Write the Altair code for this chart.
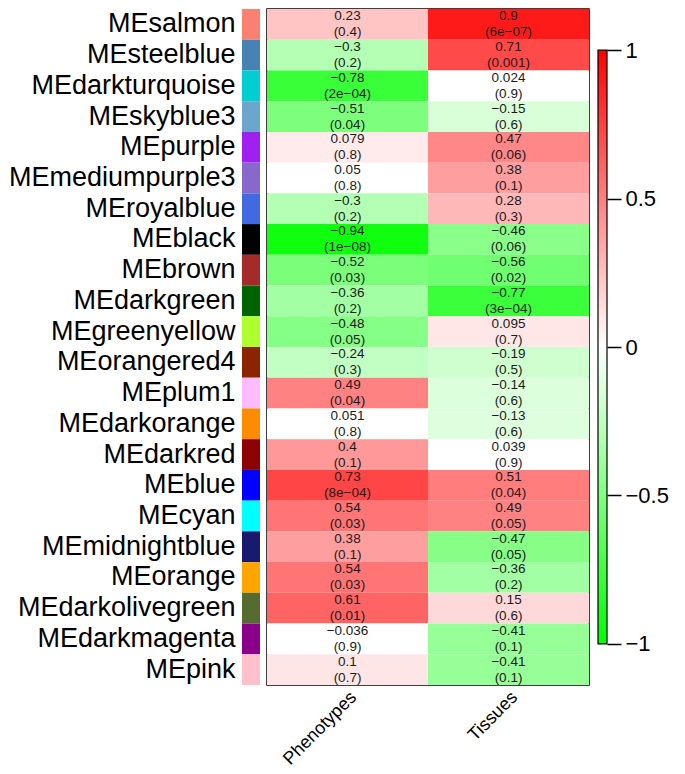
import altair as alt
import pandas as pd

modules = ["MEsalmon", "MEsteelblue", "MEdarkturquoise", "MEskyblue3", "MEpurple",
           "MEmediumpurple3", "MEroyalblue", "MEblack", "MEbrown", "MEdarkgreen",
           "MEgreenyellow", "MEorangered4", "MEplum1", "MEdarkorange", "MEdarkred",
           "MEblue", "MEcyan", "MEmidnightblue", "MEorange", "MEdarkolivegreen",
           "MEdarkmagenta", "MEpink"]
swatch_colors = ["#FA8072", "#4682B4", "#00CED1", "#6CA6CD", "#A020F0",
                 "#8968CD", "#4169E1", "#000000", "#A52A2A", "#006400",
                 "#ADFF2F", "#8B2500", "#FFBBFF", "#FF8C00", "#8B0000",
                 "#0000FF", "#00FFFF", "#191970", "#FFA500", "#556B2F",
                 "#8B008B", "#FFC0CB"]
traits = ["Phenotypes", "Tissues"]
pheno_r = [0.23, -0.3, -0.78, -0.51, 0.079, 0.05, -0.3, -0.94, -0.52, -0.36, -0.48,
           -0.24, 0.49, 0.051, 0.4, 0.73, 0.54, 0.38, 0.54, 0.61, -0.036, 0.1]
pheno_p = ["0.4", "0.2", "2e-04", "0.04", "0.8", "0.8", "0.2", "1e-08", "0.03", "0.2", "0.05",
           "0.3", "0.04", "0.8", "0.1", "8e-04", "0.03", "0.1", "0.03", "0.01", "0.9", "0.7"]
tissue_r = [0.9, 0.71, 0.024, -0.15, 0.47, 0.38, 0.28, -0.46, -0.56, -0.77, 0.095,
            -0.19, -0.14, -0.13, 0.039, 0.51, 0.49, -0.47, -0.36, 0.15, -0.41, -0.41]
tissue_p = ["6e-07", "0.001", "0.9", "0.6", "0.06", "0.1", "0.3", "0.06", "0.02", "3e-04", "0.7",
            "0.5", "0.6", "0.6", "0.9", "0.04", "0.05", "0.05", "0.2", "0.6", "0.1", "0.1"]
legend_ticks = [-1, -0.5, 0, 0.5, 1]

FONT = "Liberation Sans"
H = 676

rows = []
for trait, rs, ps in [("Phenotypes", pheno_r, pheno_p), ("Tissues", tissue_r, tissue_p)]:
    for m, r, p in zip(modules, rs, ps):
        lab = repr(r).replace("-", "\u2212") + "\n(" + p.replace("-", "\u2212") + ")"
        rows.append({"module": m, "trait": trait, "r": r, "label": lab})
hm_df = pd.DataFrame(rows)
sw_df = pd.DataFrame({"module": modules, "hex": swatch_colors})

swatch = alt.Chart(sw_df).mark_rect().encode(
    y=alt.Y("module:N", sort=modules,
            axis=alt.Axis(title=None, labelFontSize=27, labelFont=FONT, labelColor="black",
                          domain=False, ticks=False, labelPadding=7, labelLimit=400)),
    fill=alt.Fill("hex:N", scale=None),
).properties(width=18, height=H)

base = alt.Chart(hm_df).encode(
    x=alt.X("trait:N", sort=traits,
            axis=alt.Axis(title=None, labelAngle=-45, labelFontSize=18, labelFont=FONT,
                          labelColor="black", domain=False, ticks=False, labelPadding=3)),
    y=alt.Y("module:N", sort=modules, axis=None),
)
cells = base.mark_rect().encode(
    color=alt.Color("r:Q", scale=alt.Scale(type="linear",
                                            domain=[-1, -0.06, -0.055, 0.055, 0.06, 1],
                                            range=["#00FF00", "#F0FFF0", "#FFFFFF",
                                                   "#FFFFFF", "#FFF0F0", "#FF0000"],
                                            interpolate="rgb", clamp=True),
                    legend=None)
)
texts = base.mark_text(lineBreak="\n", fontSize=13.5, lineHeight=16, font=FONT,
                       color="#1a1a1a", dy=-8).encode(text="label:N")
heat = (cells + texts).properties(
    width=322, height=H, view=alt.ViewBackground(stroke="black", strokeWidth=1.5))

d = 690 / 606
cb_df = pd.DataFrame({"lo": [-1], "hi": [1]})
colorbar = alt.Chart(cb_df).mark_rect(
    color=alt.Gradient(gradient="linear",
                       stops=[alt.GradientStop(offset=0, color="#FF0000"),
                              alt.GradientStop(offset=0.5, color="#FFFFFF"),
                              alt.GradientStop(offset=1, color="#00FF00")],
                       x1=0, x2=0, y1=0, y2=1),
    stroke="black", strokeWidth=1.2,
).encode(
    x=alt.value(0), x2=alt.value(9),
    y=alt.Y("lo:Q", scale=alt.Scale(domain=[-d, d], nice=False, zero=False),
            axis=alt.Axis(orient="right", title=None, values=legend_ticks, format="~g",
                          labelFontSize=22, labelFont=FONT, labelColor="black",
                          domain=False, grid=False, tickColor="black", tickSize=14,
                          tickWidth=1.5, labelPadding=4)),
    y2="hi:Q",
).properties(width=9, height=H)

chart = alt.hconcat(
    alt.hconcat(swatch, heat, spacing=6),
    colorbar, spacing=7,
).resolve_scale(color="independent", fill="independent", y="independent").properties(
    padding=0, background="white").configure_view(strokeWidth=0)

chart.save("out.html", embed_options={"renderer": "svg", "actions": False})
